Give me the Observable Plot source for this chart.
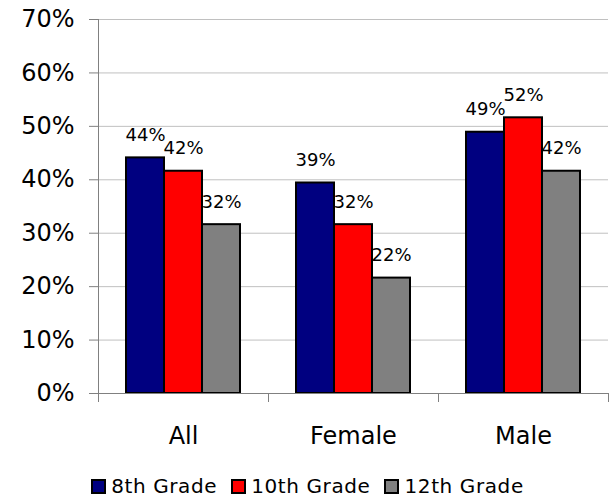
<!DOCTYPE html>
<html><head><meta charset="utf-8">
<script src="https://cdn.jsdelivr.net/npm/d3@7"></script>
<script src="https://cdn.jsdelivr.net/npm/@observablehq/plot@0.6"></script>
<style>
body{margin:0;background:#fff;font-family:"DejaVu Sans",Verdana,sans-serif;}
#chart{position:relative;width:615px;height:498px;overflow:hidden;}
#legend{position:absolute;left:0;top:476px;width:615px;display:flex;justify-content:center;align-items:center;font-size:20px;letter-spacing:0.6px;color:#000;line-height:20px;}
#legend .item{display:flex;align-items:center;margin:0 7px;}
#legend .sw{width:15px;height:15px;box-sizing:border-box;border:2px solid #000;margin-right:5px;}
</style></head><body>
<div id="chart"><div id="legend"></div></div>
<script>
const categories = ["All", "Female", "Male"];
const grades = ["8th Grade", "10th Grade", "12th Grade"];
const grade8 = [0.441, 0.394, 0.489];
const grade10 = [0.416, 0.316, 0.516];
const grade12 = [0.316, 0.216, 0.416];
const yTicks = [0, 0.1, 0.2, 0.3, 0.4, 0.5, 0.6, 0.7];
const colors = ["#000080", "#ff0000", "#808080"];

const series = [grade8, grade10, grade12];
const rows = [];
grades.forEach((g, gi) => categories.forEach((c, ci) => rows.push({grade: g, category: c, value: series[gi][ci]})));

const W = 615, H = 460, ML = 98, MR = 7, MT = 19, MB = 67;
const band = (W - ML - MR) / categories.length;
const barW = 38;
const pad = (band - barW * grades.length) / 2;
const fmt = d3.format(".0%");

const marks = [
  Plot.ruleY(yTicks.slice(1), {stroke: "#c0c0c0", strokeWidth: 1})
];
grades.forEach((g, gi) => {
  const off = pad + gi * barW + barW / 2 - band / 2;
  marks.push(Plot.text(rows.filter(d => d.grade === g), {
    x: "category", y: "value", text: d => fmt(d.value), dx: off, dy: -17,
    lineAnchor: "bottom", textAnchor: "middle", fontSize: 18, fill: "#000"
  }));
});
grades.forEach((g, gi) => {
  const left = pad + gi * barW;
  marks.push(Plot.barY(rows.filter(d => d.grade === g), {
    x: "category", y: "value", fill: colors[gi], stroke: "#000", strokeWidth: 2,
    insetLeft: left, insetRight: band - left - barW
  }));
});
marks.push(
  Plot.ruleY([0], {stroke: "#808080", strokeWidth: 1}),
  Plot.ruleX([categories[0]], {dx: -band / 2, stroke: "#808080", strokeWidth: 1}),
  Plot.axisX({tickSize: 9, text: null, label: null, dx: -band / 2, stroke: "#808080"}),
  Plot.axisX({ticks: [categories[categories.length - 1]], tickSize: 9, text: null, label: null, dx: band / 2, stroke: "#808080"}),
  Plot.axisX({tickSize: 0, tickPadding: 33, fontSize: 24, label: null, fill: "#000"}),
  Plot.axisY({ticks: yTicks, tickFormat: d3.format(".0%"), tickSize: 9, tickPadding: 15, fontSize: 24, label: null, stroke: "#808080", fill: "#000"})
);

const chart = Plot.plot({
  width: W, height: H,
  marginLeft: ML, marginRight: MR, marginTop: MT, marginBottom: MB,
  style: {fontFamily: "'DejaVu Sans', Verdana, sans-serif", background: "#fff", color: "#000"},
  x: {domain: categories, padding: 0},
  y: {domain: [0, 0.7]},
  marks
});
document.getElementById("chart").prepend(chart);

const legend = document.getElementById("legend");
grades.forEach((g, gi) => {
  const it = document.createElement("div");
  it.className = "item";
  const sw = document.createElement("span");
  sw.className = "sw";
  sw.style.background = colors[gi];
  const t = document.createElement("span");
  t.textContent = g;
  it.append(sw, t);
  legend.append(it);
});
</script>
</body></html>
